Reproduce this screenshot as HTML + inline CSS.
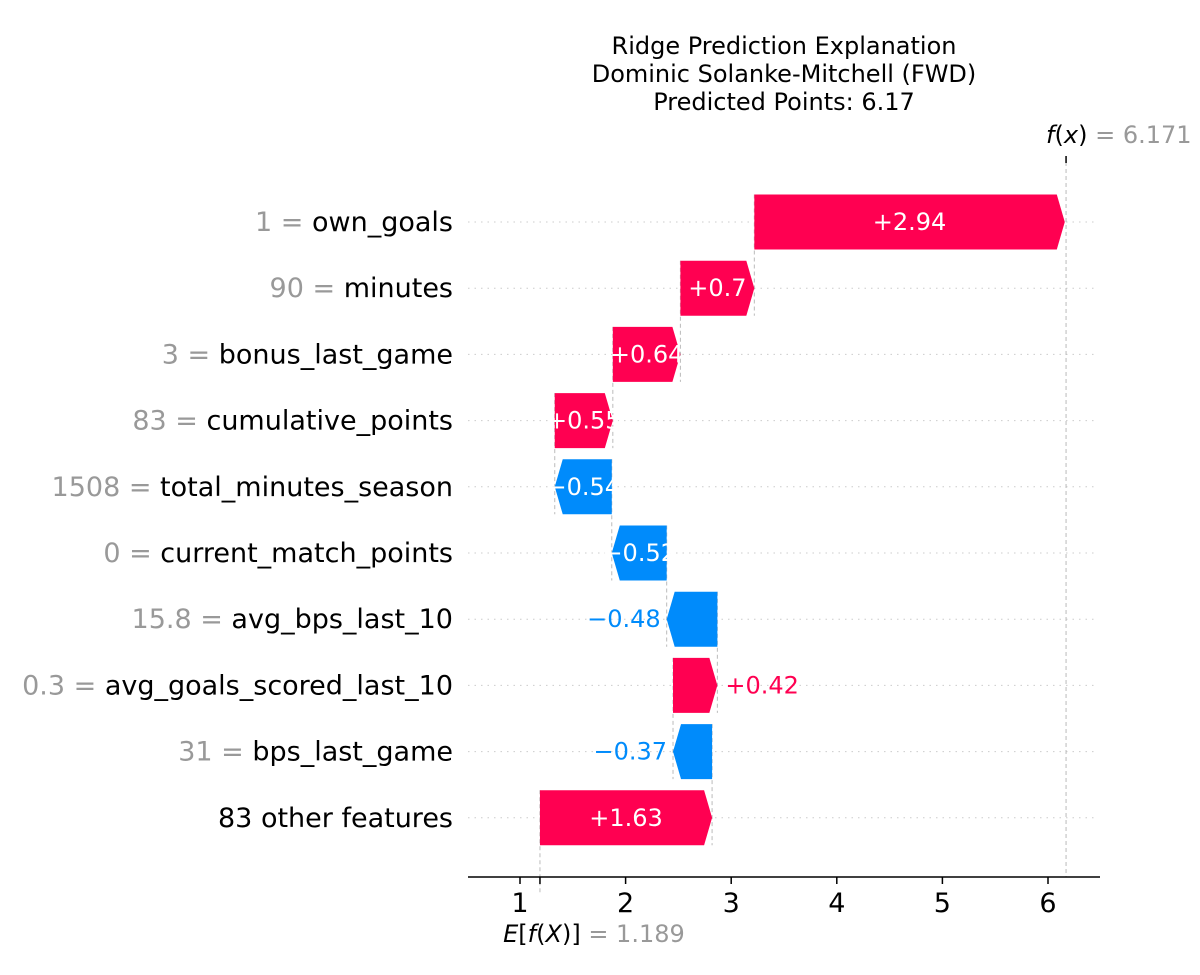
<!DOCTYPE html>
<html><head><meta charset="utf-8">
<style>
html,body{margin:0;padding:0;background:#fff;}
svg{display:block;font-family:"DejaVu Sans","Liberation Sans",sans-serif;}
</style></head>
<body>
<svg id="chart" width="1200" height="975" viewBox="0 0 1200 975" xmlns="http://www.w3.org/2000/svg">
<g font-size="24" text-anchor="middle" fill="#000">
<text x="784" y="54">Ridge Prediction Explanation</text>
<text x="784" y="82">Dominic Solanke-Mitchell (FWD)</text>
<text x="784" y="110">Predicted Points: 6.17</text>
</g>
<g id="grid"></g>
<g id="links"></g>
<g id="bars"></g>
<g id="ylabels"></g>
<g id="axis"></g>
</svg>
<script>
const featureNames = ["own_goals","minutes","bonus_last_game","cumulative_points","total_minutes_season","current_match_points","avg_bps_last_10","avg_goals_scored_last_10","bps_last_game","83 other features"];
const featureValues = ["1","90","3","83","1508","0","15.8","0.3","31",""];
const shapValues = [2.94,0.70,0.64,0.55,-0.54,-0.52,-0.48,0.42,-0.37,1.63];
const valueLabels = ["+2.94","+0.7","+0.64","+0.55","\u22120.54","\u22120.52","\u22120.48","+0.42","\u22120.37","+1.63"];
const baseValue = 1.189;
const fxValue = 6.171;
const xTicks = [1,2,3,4,5,6];

const NS="http://www.w3.org/2000/svg";
const X0=520, XS=105.6;
const xs=v=>X0+(v-1)*XS;
const ROW0=222, ROWS=66.2, BH=55;
const ys=i=>ROW0+i*ROWS;
const RED="#ff0051", BLUE="#008bfb";
function mk(tag,attrs,parent,txt){const e=document.createElementNS(NS,tag);for(const k in attrs)e.setAttribute(k,attrs[k]);if(txt!==undefined)e.textContent=txt;document.getElementById(parent).appendChild(e);return e;}

const n=shapValues.length;
const starts=new Array(n), ends=new Array(n);
let cur=baseValue;
for(let i=n-1;i>=0;i--){starts[i]=cur;cur+=shapValues[i];ends[i]=cur;}

for(let i=0;i<n;i++){
  const y=ys(i);
  const g=mk("line",{x1:468,x2:1098,y1:y,y2:y,stroke:"#ccc","stroke-width":1,"stroke-dasharray":"1.5,5"},"grid");
  
  
  const t=mk("text",{x:453,y:y+9,"font-size":27,"text-anchor":"end"},"ylabels");
  
  
  if(featureValues[i]!==""){const s=document.createElementNS(NS,"tspan");s.setAttribute("fill","#999");s.textContent=featureValues[i]+" = ";t.appendChild(s);}
  const s2=document.createElementNS(NS,"tspan");s2.setAttribute("fill","#000");s2.textContent=featureNames[i];t.appendChild(s2);
  const yb=(i<n-1)?ys(i+1)+BH/2:893;
  const l=mk("line",{x1:xs(starts[i]),x2:xs(starts[i]),y1:y-BH/2,y2:yb,stroke:"#bbb","stroke-width":1,"stroke-dasharray":"4,3"},"links");
  
  
  const a=xs(starts[i]), b=xs(ends[i]);
  const w=Math.abs(b-a), hl=Math.min(8,w), dir=b>a?1:-1;
  const t0=y-BH/2, t1=y+BH/2;
  const pts=[[a,t0],[b-dir*hl,t0],[b,y],[b-dir*hl,t1],[a,t1]].map(p=>p.join(",")).join(" ");
  const col=shapValues[i]>0?RED:BLUE;
  const p=mk("polygon",{points:pts,fill:col},"bars");
  
  
  let vt;
  if(w>=52){
    vt=mk("text",{x:(a+b)/2,y:y+8,"font-size":24,fill:"#fff","text-anchor":"middle"},"bars",valueLabels[i]);
  } else if(dir>0){
    vt=mk("text",{x:b+8,y:y+8,"font-size":24,fill:col,"text-anchor":"start"},"bars",valueLabels[i]);
  } else {
    vt=mk("text",{x:b-6,y:y+8,"font-size":24,fill:col,"text-anchor":"end"},"bars",valueLabels[i]);
  }
  
  
}
const fl=mk("line",{x1:xs(fxValue),x2:xs(fxValue),y1:162,y2:877,stroke:"#bbb","stroke-width":1,"stroke-dasharray":"4,3"},"links");


const ft=mk("line",{x1:xs(fxValue),x2:xs(fxValue),y1:156,y2:163,stroke:"#000","stroke-width":1.5},"axis");


const fxt=mk("text",{x:xs(fxValue)-20,y:143,"font-size":24,"text-anchor":"start"},"axis");


fxt.innerHTML='<tspan font-style="italic">f</tspan>(<tspan font-style="italic">x</tspan>)<tspan fill="#999"> = '+fxValue.toFixed(3)+'</tspan>';
const ax=mk("line",{x1:468,x2:1100,y1:877,y2:877,stroke:"#000","stroke-width":1.5},"axis");


for(const v of xTicks){
  const tk=mk("line",{x1:xs(v),x2:xs(v),y1:877,y2:884,stroke:"#000","stroke-width":1.5},"axis");
  
  
  const tl=mk("text",{x:xs(v),y:912,"font-size":27,"text-anchor":"middle"},"axis",String(v));
  
  
}
const bt=mk("line",{x1:xs(baseValue),x2:xs(baseValue),y1:877,y2:884,stroke:"#000","stroke-width":1.5},"axis");


const bl=mk("text",{x:xs(baseValue)+54,y:942,"font-size":24,"text-anchor":"middle"},"axis");


bl.innerHTML='<tspan font-style="italic">E</tspan>[<tspan font-style="italic">f</tspan>(<tspan font-style="italic">X</tspan>)]<tspan fill="#999"> = '+baseValue.toFixed(3)+'</tspan>';
</script>
</body></html>
